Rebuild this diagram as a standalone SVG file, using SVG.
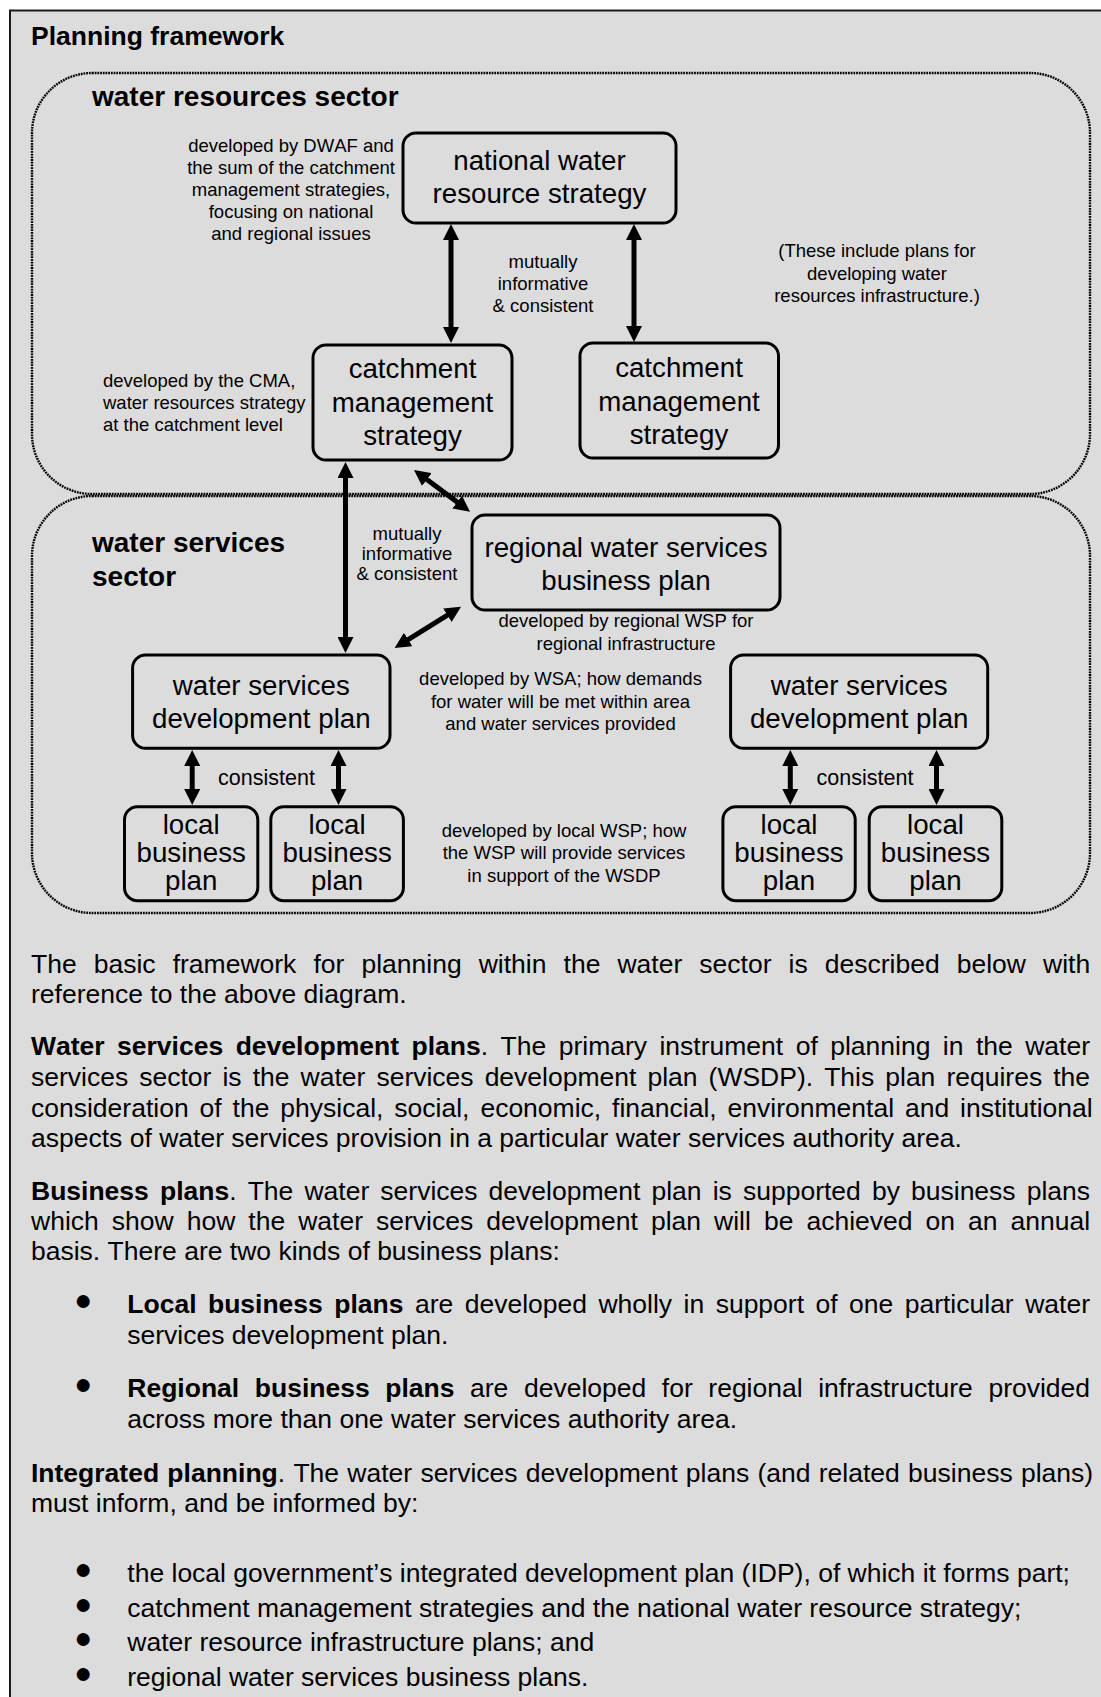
<svg xmlns="http://www.w3.org/2000/svg" width="1101" height="1697" viewBox="0 0 1101 1697">
<defs>
<style>
.t{font-family:"Liberation Sans",Arial,Helvetica,sans-serif;fill:#000;font-kerning:none}
.title{font-size:26.5px;font-weight:bold}
.sec{font-size:28px;font-weight:bold}
.nt{font-size:27.7px;text-anchor:middle}
.an{font-size:18.5px;text-anchor:middle}
.al{font-size:18.5px}
.cs{font-size:21.5px;text-anchor:middle}
.body{font-size:26.5px}
.b{font-weight:bold}
.bul{font-size:30px;text-anchor:middle}
.node{fill:none;stroke:#000;stroke-width:3}
.region{fill:none;stroke:#000;stroke-width:2.4;stroke-dasharray:1.8 0.9}
.arr{stroke:#000;stroke-width:5;fill:none;marker-start:url(#ah);marker-end:url(#ah)}
</style>
<marker id="ah" viewBox="0 0 16 16" refX="10" refY="8" markerWidth="16" markerHeight="16" markerUnits="userSpaceOnUse" orient="auto-start-reverse">
<path d="M0,0 L16,8 L0,16 z" fill="#000"/>
</marker>
</defs>
<rect x="0" y="0" width="1101" height="1697" fill="#fff"/>
<rect x="10" y="10.5" width="1200" height="1800" fill="#dcdcdc" stroke="#1a1a1a" stroke-width="2"/>
<text class="t title" x="31" y="45">Planning framework</text>

<g id="sector-water-resources">
<rect class="region" x="32" y="73" width="1058" height="421" rx="60" ry="60"/>
<text class="t sec" x="92" y="106">water resources sector</text>
</g>
<g id="sector-water-services">
<rect class="region" x="32" y="496" width="1058" height="417" rx="60" ry="60"/>
<text class="t sec" x="92" y="552">water services</text>
<text class="t sec" x="92" y="586">sector</text>
</g>

<g id="connectors">
<line class="arr" x1="451" y1="230" x2="451" y2="337"/>
<line class="arr" x1="634" y1="230" x2="634" y2="336"/>
<line class="arr" x1="345.5" y1="468" x2="345.5" y2="647"/>
<line class="arr" x1="418.8" y1="473.6" x2="465.2" y2="508.1"/>
<line class="arr" x1="399.7" y1="644.8" x2="455.9" y2="609.9"/>
<line class="arr" x1="192.2" y1="756" x2="192.2" y2="799"/>
<line class="arr" x1="338.5" y1="756" x2="338.5" y2="799"/>
<line class="arr" x1="790.3" y1="756" x2="790.3" y2="799"/>
<line class="arr" x1="936.5" y1="756" x2="936.5" y2="799"/>
</g>

<g id="n-nwrs">
<rect class="node" x="403" y="133" width="273" height="90" rx="13"/>
<text class="t nt" x="539.5" y="170">national water<tspan x="539.5" y="203">resource strategy</tspan></text>
</g>
<g id="n-cms1">
<rect class="node" x="313" y="345" width="199" height="115" rx="13"/>
<text class="t nt" x="412.5" y="378">catchment<tspan x="412.5" y="411.5">management</tspan><tspan x="412.5" y="445">strategy</tspan></text>
</g>
<g id="n-cms2">
<rect class="node" x="580" y="343" width="198.5" height="115" rx="13"/>
<text class="t nt" x="679" y="377">catchment<tspan x="679" y="410.5">management</tspan><tspan x="679" y="444">strategy</tspan></text>
</g>
<g id="n-rwsbp">
<rect class="node" x="472" y="515" width="308" height="95" rx="13"/>
<text class="t nt" x="626" y="557">regional water services<tspan x="626" y="590">business plan</tspan></text>
</g>
<g id="n-wsdp1">
<rect class="node" x="132.6" y="655" width="257.4" height="93.3" rx="13"/>
<text class="t nt" x="261.3" y="695">water services<tspan x="261.3" y="728">development plan</tspan></text>
</g>
<g id="n-wsdp2">
<rect class="node" x="730.6" y="655" width="257.1" height="93.3" rx="13"/>
<text class="t nt" x="859.2" y="695">water services<tspan x="859.2" y="728">development plan</tspan></text>
</g>
<g id="n-lbp1">
<rect class="node" x="124.5" y="806.7" width="133.3" height="94" rx="13"/>
<text class="t nt" x="191.2" y="834">local<tspan x="191.2" y="862">business</tspan><tspan x="191.2" y="889.5">plan</tspan></text>
</g>
<g id="n-lbp2">
<rect class="node" x="270.8" y="806.7" width="132.6" height="94" rx="13"/>
<text class="t nt" x="337.1" y="834">local<tspan x="337.1" y="862">business</tspan><tspan x="337.1" y="889.5">plan</tspan></text>
</g>
<g id="n-lbp3">
<rect class="node" x="722.9" y="806.7" width="132.3" height="94" rx="13"/>
<text class="t nt" x="789" y="834">local<tspan x="789" y="862">business</tspan><tspan x="789" y="889.5">plan</tspan></text>
</g>
<g id="n-lbp4">
<rect class="node" x="869.2" y="806.7" width="132.6" height="94" rx="13"/>
<text class="t nt" x="935.5" y="834">local<tspan x="935.5" y="862">business</tspan><tspan x="935.5" y="889.5">plan</tspan></text>
</g>

<g id="annotations">
<text class="t an" x="291" y="151.5">developed by DWAF and</text>
<text class="t an" x="291" y="173.5">the sum of the catchment</text>
<text class="t an" x="291" y="195.5">management strategies,</text>
<text class="t an" x="291" y="217.5">focusing on national</text>
<text class="t an" x="291" y="239.5">and regional issues</text>
<text class="t an" x="543" y="268">mutually</text>
<text class="t an" x="543" y="290">informative</text>
<text class="t an" x="543" y="312">&amp; consistent</text>
<text class="t an" x="877" y="257">(These include plans for</text>
<text class="t an" x="877" y="279.5">developing water</text>
<text class="t an" x="877" y="302">resources infrastructure.)</text>
<text class="t al" x="103" y="386.5">developed by the CMA,</text>
<text class="t al" x="103" y="408.5">water resources strategy</text>
<text class="t al" x="103" y="430.5">at the catchment level</text>
<text class="t an" x="407" y="540">mutually</text>
<text class="t an" x="407" y="560">informative</text>
<text class="t an" x="407" y="580">&amp; consistent</text>
<text class="t an" x="626" y="627">developed by regional WSP for</text>
<text class="t an" x="626" y="649.5">regional infrastructure</text>
<text class="t an" x="560.5" y="685">developed by WSA; how demands</text>
<text class="t an" x="560.5" y="707.5">for water will be met within area</text>
<text class="t an" x="560.5" y="730">and water services provided</text>
<text class="t an" x="564" y="836.5">developed by local WSP; how</text>
<text class="t an" x="564" y="859">the WSP will provide services</text>
<text class="t an" x="564" y="881.5">in support of the WSDP</text>
<text class="t cs" x="266.5" y="785">consistent</text>
<text class="t cs" x="865" y="785">consistent</text>
</g>

<g id="body-text">
<text class="t body" x="31" y="973" word-spacing="9.71">The basic framework for planning within the water sector is described below with</text>
<text class="t body" x="31" y="1003">reference to the above diagram.</text>
<text class="t body" x="31" y="1055" word-spacing="5.09"><tspan class="b">Water services development plans</tspan>. The primary instrument of planning in the water</text>
<text class="t body" x="31" y="1086" word-spacing="3.69">services sector is the water services development plan (WSDP). This plan requires the</text>
<text class="t body" x="31" y="1116.5" word-spacing="3.56">consideration of the physical, social, economic, financial, environmental and institutional</text>
<text class="t body" x="31" y="1147">aspects of water services provision in a particular water services authority area.</text>
<text class="t body" x="31" y="1200" word-spacing="3.75"><tspan class="b">Business plans</tspan>. The water services development plan is supported by business plans</text>
<text class="t body" x="31" y="1230" word-spacing="5.66">which show how the water services development plan will be achieved on an annual</text>
<text class="t body" x="31" y="1260">basis. There are two kinds of business plans:</text>
<text class="t bul" x="83" y="1310">●</text>
<text class="t body" x="127.3" y="1313" word-spacing="4.09"><tspan class="b">Local business plans</tspan> are developed wholly in support of one particular water</text>
<text class="t body" x="127.3" y="1344">services development plan.</text>
<text class="t bul" x="83" y="1394">●</text>
<text class="t body" x="127.3" y="1397" word-spacing="8.22"><tspan class="b">Regional business plans</tspan> are developed for regional infrastructure provided</text>
<text class="t body" x="127.3" y="1428">across more than one water services authority area.</text>
<text class="t body" x="31" y="1482" word-spacing="0.9"><tspan class="b">Integrated planning</tspan>. The water services development plans (and related business plans)</text>
<text class="t body" x="31" y="1512">must inform, and be informed by:</text>
<text class="t bul" x="83" y="1579">●</text>
<text class="t body" x="127.3" y="1582">the local government’s integrated development plan (IDP), of which it forms part;</text>
<text class="t bul" x="83" y="1613.5">●</text>
<text class="t body" x="127.3" y="1616.5">catchment management strategies and the national water resource strategy;</text>
<text class="t bul" x="83" y="1648">●</text>
<text class="t body" x="127.3" y="1651">water resource infrastructure plans; and</text>
<text class="t bul" x="83" y="1682.5">●</text>
<text class="t body" x="127.3" y="1685.5">regional water services business plans.</text>
</g>
</svg>
